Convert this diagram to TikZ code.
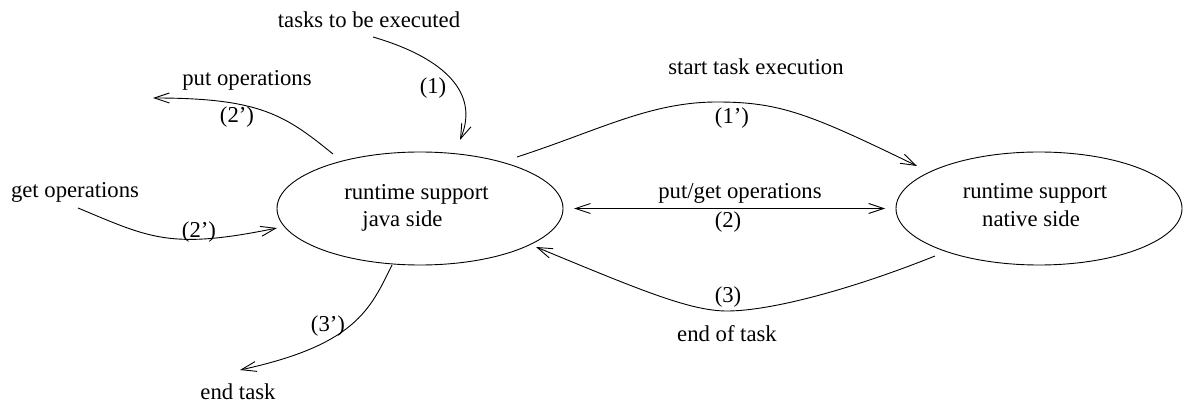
\documentclass[tikz,border=0pt]{standalone}
\usepackage{fontspec}
\setmainfont{Liberation Serif}
\usetikzlibrary{arrows.meta, shapes.geometric}

\begin{document}
\begin{tikzpicture}[x=1pt, y=-1pt,
    every node/.style={inner sep=0pt, outer sep=0pt,
      font=\fontsize{22.7}{27}\selectfont},
    side/.style={draw, ellipse, line width=0.9pt,
      minimum width=286pt, minimum height=113pt},
    word/.style={anchor=base},
    step label/.style={anchor=center},
    barb/.style={Straight Barb[length=15pt, width=10pt, line width=0.9pt]},
    flow/.style={line width=0.9pt, -{Straight Barb[length=15pt, width=10pt, line width=0.9pt]}},
    twoway/.style={line width=0.9pt,
      {Straight Barb[length=15pt, width=10pt, line width=0.9pt]}-{Straight Barb[length=15pt, width=10pt, line width=0.9pt]}}]

  \useasboundingbox (0,0) rectangle (1183,403);

  % the two sides of the runtime support
  \node[side] (java) at (420,208.5) {};
  \node[side] (native) at (1039,208.5) {};
  \node[word] (javaA) at (416.5,200) {runtime support};
  \node[word] (javaB) at (402.5,227) {java side};
  \node[word] (natA) at (1035,199) {runtime support};
  \node[word] (natB) at (1031,226.7) {native side};

  % outer labels
  \node[word] (tasks) at (369,28) {tasks to be executed};
  \node[word] (put) at (247,86) {put operations};
  \node[word] (get) at (75,198) {get operations};
  \node[word] (endtask) at (238,399) {end task};
  \node[word] (start) at (756,75) {start task execution};
  \node[word] (putget) at (740,199) {put/get operations};
  \node[word] (endof) at (727,341.7) {end of task};

  % step numbers
  \node[step label] (n1) at (433,88) {(1)};
  \node[step label] (n2a) at (237,117) {(2’)};
  \node[step label] (n2b) at (199,232) {(2’)};
  \node[step label] (n3a) at (328,326) {(3’)};
  \node[step label] (n1a) at (732,118) {(1’)};
  \node[step label] (n2) at (728,222) {(2)};
  \node[step label] (n3) at (728,297) {(3)};

  % connector ends
  \coordinate (tasksOut) at (373,37);
  \coordinate (tasksIn) at (460,140);
  \coordinate (putOut) at (333,154);
  \coordinate (putIn) at (153,98);
  \coordinate (getOut) at (78,208);
  \coordinate (getIn) at (277,228);
  \coordinate (endOut) at (392,265);
  \coordinate (endIn) at (240,370);
  \coordinate (startOut) at (517,157);
  \coordinate (startIn) at (917,166);
  \coordinate (finOut) at (935,256);
  \coordinate (finIn) at (536,247);

  % connectors
  \draw[flow] (tasksOut) .. controls (435,55) and (482,88) .. (tasksIn);
  \draw[flow] (putOut) .. controls (285,115) and (260,98) .. (putIn);
  \draw[flow] (getOut) .. controls (150,238) and (170,250) .. (getIn);
  \draw[flow] (endOut) .. controls (370,310) and (355,345) .. (endIn);
  \draw[flow] (startOut) .. controls (600,130) and (650,102) .. (717,102)
                         .. controls (780,102) and (810,114) .. (startIn);
  \draw[twoway, shorten <=11pt, shorten >=11pt] (java.east) -- (native.west);
  \draw[flow] (finOut) .. controls (850,290) and (770,311) .. (727,311)
                       .. controls (690,311) and (640,290) .. (finIn);
\end{tikzpicture}
\end{document}
